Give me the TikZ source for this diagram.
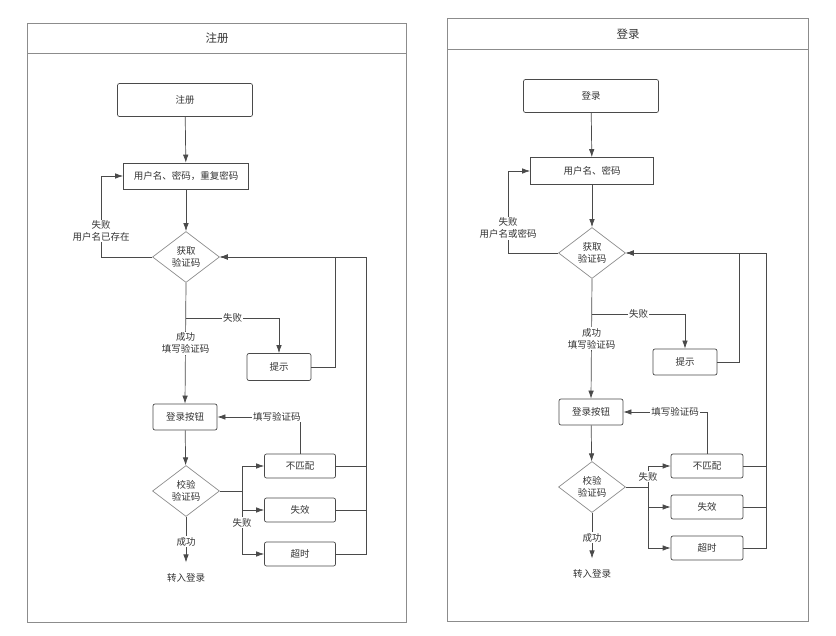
\documentclass[tikz,border=0pt]{standalone}
\usepackage{fontspec}
\setmainfont{Noto Sans CJK SC}
\usetikzlibrary{arrows.meta, shapes.geometric, positioning}
\definecolor{linegray}{HTML}{4A4A4A}
\definecolor{framegray}{HTML}{8C8C8C}
\definecolor{textgray}{HTML}{333333}
\tikzset{>={Latex[length=8pt,width=5.5pt]}}
\tikzset{
    box/.style={draw=linegray, line width=0.7pt, rounded corners=2pt, text=textgray, inner sep=0pt,
        font=\fontsize{9.5}{12}\selectfont},
    sqbox/.style={box, rounded corners=0pt},
    decision/.style={diamond, draw=framegray, line width=0.7pt, text=textgray, inner sep=0pt,
        minimum width=67pt, minimum height=51pt, align=center,
        font=\fontsize{9.5}{12}\selectfont},
    lbl/.style={fill=white, text=textgray, inner sep=1pt, align=center,
        font=\fontsize{9.5}{12}\selectfont},
    flow/.style={draw=linegray, line width=0.7pt},
    frame/.style={draw=framegray, line width=0.9pt},
    heading/.style={text=textgray, font=\fontsize{11.5}{14}\selectfont}
}
\begin{document}
\begin{tikzpicture}[x=1pt,y=-1pt]
    \useasboundingbox (0,0) rectangle (836,636);
    % panels
    \draw[frame] (27,23) rectangle (406,622);
    \draw[frame] (27,53) -- (406,53);
    \draw[frame] (447,18) rectangle (808,621);
    \draw[frame] (447,49) -- (808,49);
    \node[heading] (regTitle) at (217,38) {注册};
    \node[heading] (logTitle) at (628,34) {登录};

    % register
    \node[box, minimum width=135pt, minimum height=33pt] (regStart) at (185,100) {注册};
    \node[sqbox, minimum width=125pt, minimum height=26pt] (regInput) at (186,176) {用户名、密码，重复密码};
    \node[decision] (regCode) at (186,257) {获取\\验证码};
    \node[box, minimum width=64pt, minimum height=27pt] (regTip) at (279,367) {提示};
    \node[box, minimum width=64pt, minimum height=26pt] (regBtn) at (185,417) {登录按钮};
    \node[decision] (regCheck) at (186,491) {校验\\验证码};
    \node[box, minimum width=71pt, minimum height=24pt] (regMis) at (300,466) {不匹配};
    \node[box, minimum width=71pt, minimum height=24pt] (regExp) at (300,510) {失效};
    \node[box, minimum width=71pt, minimum height=24pt] (regOut) at (300,554) {超时};
    \node[lbl] (regDone) at (186,578) {转入登录};
    \coordinate (regLoop) at (101,257);
    \coordinate (regSplit) at (186,318);
    \coordinate (regBackA) at (335,257);
    \coordinate (regBackB) at (366,257);
    \coordinate (regFork) at (242,491);

    \draw[flow,->] (regStart) -- (regInput);
    \draw[flow,->] (regInput) -- (regCode);
    \draw[flow,->] (regCode.west) -- (regLoop) |- node[lbl, pos=0.16] {失败\\用户名已存在} (regInput.west);
    \draw[flow,->] (regCode.south) -- node[lbl] {成功\\填写验证码} (regBtn.north);
    \draw[flow,->] (regSplit) -| node[lbl, pos=0.25] {失败} (regTip.north);
    \draw[flow,->] (regTip.east) -| (regBackA) -- (regCode.east);
    \draw[flow,->] (regMis.east) -| (regBackB) -- (regCode.east);
    \draw[flow] (regExp.east) -- (regExp.east -| regBackB);
    \draw[flow] (regOut.east) -| (regBackB);
    \draw[flow,->] (regBtn) -- (regCheck);
    \draw[flow,->] (regMis.north) |- node[lbl, pos=0.64] {填写验证码} (regBtn.east);
    \draw[flow] (regCheck.east) -- (regFork);
    \draw[flow,->] (regFork) |- (regMis.west);
    \draw[flow,->] (regFork) |- (regExp.west);
    \draw[flow,->] (regFork) |- node[lbl, pos=0.25] {失败} (regOut.west);
    \draw[flow,->,shorten >=10pt] (regCheck.south) -- node[lbl, pos=0.45] {成功} (regDone);

    % login
    \node[box, minimum width=135pt, minimum height=33pt] (logStart) at (591,96) {登录};
    \node[sqbox, minimum width=123pt, minimum height=27pt] (logInput) at (592,171) {用户名、密码};
    \node[decision] (logCode) at (592,253) {获取\\验证码};
    \node[box, minimum width=64pt, minimum height=26pt] (logTip) at (685,362) {提示};
    \node[box, minimum width=64pt, minimum height=26pt] (logBtn) at (591,412) {登录按钮};
    \node[decision] (logCheck) at (592,487) {校验\\验证码};
    \node[box, minimum width=72pt, minimum height=24pt] (logMis) at (707,466) {不匹配};
    \node[box, minimum width=72pt, minimum height=24pt] (logExp) at (707,507) {失效};
    \node[box, minimum width=72pt, minimum height=24pt] (logOut) at (707,548) {超时};
    \node[lbl] (logDone) at (592,574) {转入登录};
    \coordinate (logLoop) at (508,253);
    \coordinate (logSplit) at (592,314);
    \coordinate (logBackA) at (739,253);
    \coordinate (logBackB) at (766,253);
    \coordinate (logFork) at (648,487);

    \draw[flow,->] (logStart) -- (logInput);
    \draw[flow,->] (logInput) -- (logCode);
    \draw[flow,->] (logCode.west) -- (logLoop) |- node[lbl, pos=0.15] {失败\\用户名或密码} (logInput.west);
    \draw[flow,->] (logCode.south) -- node[lbl, pos=0.5] {成功\\填写验证码} (logBtn.north);
    \draw[flow,->] (logSplit) -| node[lbl, pos=0.25] {失败} (logTip.north);
    \draw[flow,->] (logTip.east) -| (logBackA) -- (logCode.east);
    \draw[flow,->] (logMis.east) -| (logBackB) -- (logCode.east);
    \draw[flow] (logExp.east) -- (logExp.east -| logBackB);
    \draw[flow] (logOut.east) -| (logBackB);
    \draw[flow,->] (logBtn) -- (logCheck);
    \draw[flow,->] (logMis.north) |- node[lbl, pos=0.69] {填写验证码} (logBtn.east);
    \draw[flow] (logCheck.east) -- (logFork);
    \draw[flow,->] (logFork) |- node[lbl, pos=0.25] {失败} (logMis.west);
    \draw[flow,->] (logFork) |- (logExp.west);
    \draw[flow,->] (logFork) |- (logOut.west);
    \draw[flow,->,shorten >=10pt] (logCheck.south) -- node[lbl, pos=0.45] {成功} (logDone);
\end{tikzpicture}
\end{document}
